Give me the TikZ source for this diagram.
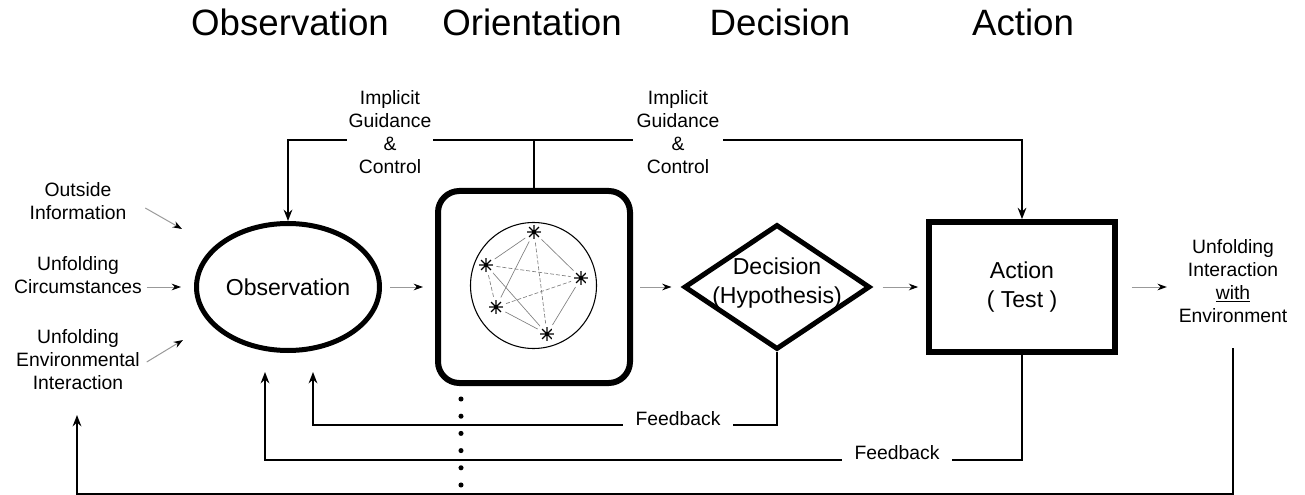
\documentclass[tikz,border=0pt]{standalone}
\usepackage{fontspec}
\setmainfont{Liberation Sans}
\usetikzlibrary{arrows.meta,shapes.geometric}

\begin{document}
\begin{tikzpicture}[x=0.75pt,y=-0.75pt,
    title/.style={font=\fontsize{27.5}{33}\selectfont, anchor=base, inner sep=0pt},
    lbl/.style={font=\fontsize{14.5}{17.3}\selectfont, align=center, inner sep=2pt},
    big/.style={font=\fontsize{17.3}{21.8}\selectfont, align=center},
    obsbox/.style={ellipse, draw, line width=3.75pt, inner sep=0pt, big,
        minimum width=183*0.75pt, minimum height=127*0.75pt},
    oribox/.style={rectangle, draw, line width=4.5pt, rounded corners=16pt,
        minimum width=192*0.75pt, minimum height=192*0.75pt},
    decbox/.style={diamond, draw, line width=3.75pt, inner sep=0pt,
        minimum width=186*0.75pt, minimum height=125*0.75pt},
    actbox/.style={rectangle, draw, line width=4.3pt, big,
        minimum width=186*0.75pt, minimum height=130*0.75pt},
    net/.style={circle, draw, line width=0.8pt, minimum size=126*0.75pt, inner sep=0pt},
    star/.style={circle, inner sep=0pt, minimum size=14*0.75pt,
        path picture={\draw[line width=0.9pt]
            (path picture bounding box.north) -- (path picture bounding box.south)
            (path picture bounding box.east) -- (path picture bounding box.west)
            (path picture bounding box.north east) -- (path picture bounding box.south west)
            (path picture bounding box.north west) -- (path picture bounding box.south east);}},
    link/.style={draw=gray, line width=0.5pt, shorten <=2.5pt, shorten >=2.5pt},
    dlink/.style={link, dash pattern=on 3pt off 1.5pt},
    flow/.style={draw=gray!80, line width=0.75pt, -{Stealth[length=7pt,width=5pt,color=black]}},
    guide/.style={line width=1.5pt},
    tip/.style={-{Stealth[length=8.5pt,width=6.5pt]}},
    fb/.style={line width=1.5pt, -{Stealth[length=8.5pt,width=6.5pt]}},
    fblbl/.style={lbl, anchor=base, fill=white, inner xsep=9.75pt, inner ysep=1pt}
  ]
  \useasboundingbox (0,0) rectangle (1305,495);

  % phase titles
  \node[title] (tObs) at (290,36) {Observation};
  \node[title] (tOri) at (532,36) {Orientation};
  \node[title] (tDec) at (780,36) {Decision};
  \node[title] (tAct) at (1023,36) {Action};

  % main blocks
  \node[obsbox] (obs) at (288,287) {Observation};
  \node[oribox] (ori) at (534,287) {};
  \node[decbox] (dec) at (777,287) {};
  \node[big] (dectxt) at (777,283) {Decision\\(Hypothesis)};
  \node[actbox] (act) at (1022,287) {Action\\( Test )};

  % network inside orientation
  \node[net] (net) at (533.5,285.5) {};
  \node[star] (s1) at (534,232) {};
  \node[star] (s2) at (486,265) {};
  \node[star] (s3) at (581,278) {};
  \node[star] (s4) at (496,307) {};
  \node[star] (s5) at (547,334) {};
  \draw[link] (s1) -- (s2);
  \draw[link] (s1) -- (s3);
  \draw[link] (s3) -- (s5);
  \draw[link] (s5) -- (s4);
  \draw[dlink] (s4) -- (s2);
  \draw[link] (s1) -- (s4);
  \draw[dlink] (s1) -- (s5);
  \draw[dlink] (s2) -- (s3);
  \draw[link] (s2) -- (s5);
  \draw[dlink] (s4) -- (s3);

  % inputs on the left
  \node[lbl] (outin) at (78,201) {Outside\\Information};
  \node[lbl] (circ) at (78,275) {Unfolding\\Circumstances};
  \node[lbl] (envin) at (78,360) {Unfolding\\Environmental\\Interaction};
  \coordinate (inA) at (182,229);
  \coordinate (inB) at (181,287);
  \coordinate (inC) at (183,340);
  \draw[flow] ([shift={(16,7)}]outin.east) -- (inA);
  \draw[flow, shorten <=1.5pt] (circ.east |- inB) -- (inB);
  \draw[flow] ([shift={(4,2)}]envin.east) -- (inC);

  % output on the right
  \node[lbl] (env) at (1233,281) {Unfolding\\Interaction\\\underline{with}\\Environment};

  % forward flow
  \draw[flow, shorten <=6pt, shorten >=9pt] (obs) -- (ori);
  \draw[flow, shorten <=5.25pt, shorten >=7.5pt] (ori) -- (dec);
  \draw[flow, shorten <=7.5pt, shorten >=6pt] (dec) -- (act);
  \draw[flow, shorten <=10.5pt, shorten >=6.75pt] (act) -- (act -| env.west);

  % implicit guidance and control
  \coordinate (gc) at (534,140);
  \draw[guide] (ori.north) -- (gc);
  \draw[guide, tip] (gc) -| (obs.north);
  \draw[guide, tip] (gc) -| (act.north);
  \node[lbl, fill=white, inner xsep=1.5pt] (igcL) at (390,132) {Implicit\\Guidance\\\&\\Control};
  \node[lbl, fill=white, inner xsep=2.6pt] (igcR) at (678,132) {Implicit\\Guidance\\\&\\Control};

  % feedback loops
  \coordinate (fbA) at (313,372);
  \coordinate (fbB) at (265,372);
  \coordinate (envB) at (77,415);
  \coordinate (fbBot) at (0,494);
  \draw[fb] (dec.south) -- ++(0,73) -| (fbA);
  \draw[fb] (act.south) -- ++(0,105) -| (fbB);
  \draw[fb, shorten <=17pt] (env.south) -- (env.south |- fbBot) -| (envB);
  \node[fblbl] (fbDec) at (678,425) {Feedback};
  \node[fblbl] (fbAct) at (897,459) {Feedback};

  % dotted line below orientation
  \foreach \i in {0,...,5}
    \fill (461,{399+17.2*\i}) circle (1.9pt);
\end{tikzpicture}
\end{document}
